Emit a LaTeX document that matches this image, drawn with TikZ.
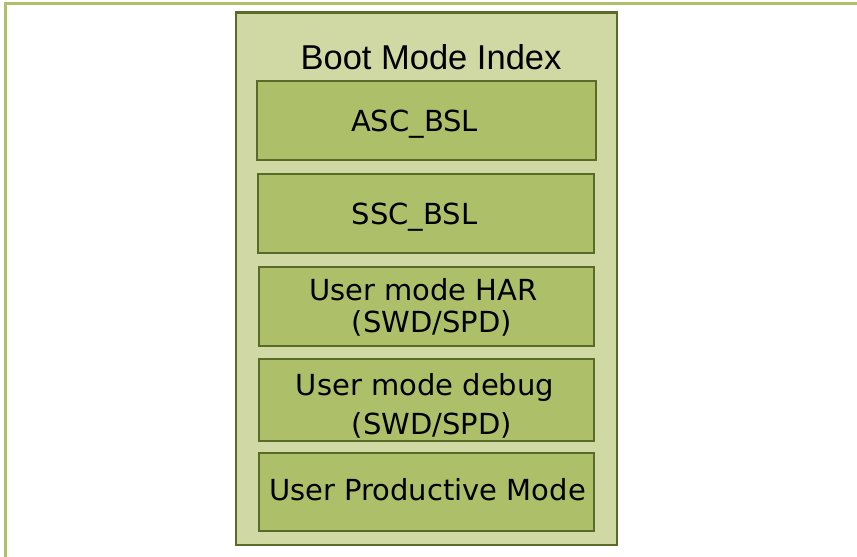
\documentclass[tikz,border=0pt]{standalone}
\usepackage{fontspec}
\setmainfont{Liberation Sans}
\newfontfamily\boxfont{DejaVu Sans}
\definecolor{framegreen}{HTML}{AFC06A}
\definecolor{panelfill}{HTML}{D0D9A4}
\definecolor{boxfill}{HTML}{AEBF6A}
\definecolor{edgeolive}{HTML}{5A6A28}
\begin{document}
\begin{tikzpicture}[x=1pt,y=-1pt,
  panel/.style={draw=edgeolive,fill=panelfill,line width=2.2pt},
  modebox/.style={draw=edgeolive,fill=boxfill,line width=1.8pt},
  boxtext/.style={anchor=base,inner sep=0pt,font=\boxfont\fontsize{29}{29}\selectfont,text=black},
  titletext/.style={anchor=base,inner sep=0pt,font=\fontsize{34.5}{34.5}\selectfont,text=black}]
\useasboundingbox (0,0) rectangle (857,557);
\fill[white] (0,0) rectangle (857,557);
\draw[framegreen,line width=3pt] (5.5,560) -- (5.5,3.5) -- (860,3.5);
\draw[panel] (236,12.5) rectangle (617,545);
\draw[modebox] (256.7,81.3) rectangle (596,160);
\draw[modebox] (258.3,174) rectangle (594,252.7);
\draw[modebox] (259,266.7) rectangle (594,346);
\draw[modebox] (259,359) rectangle (594,440.7);
\draw[modebox] (259,453) rectangle (594,531);
\node[titletext] (title) at (431,69) {Boot Mode Index};
\node[boxtext] (asc) at (414.5,131) {ASC\_BSL};
\node[boxtext] (ssc) at (414.5,224) {SSC\_BSL};
\node[boxtext] (har1) at (423.5,300.7) {User mode HAR};
\node[boxtext] (har2) at (432,332.7) {(SWD/SPD)};
\node[boxtext] (dbg1) at (425,395) {User mode debug};
\node[boxtext] (dbg2) at (432,434.3) {(SWD/SPD)};
\node[boxtext] (prod) at (427.5,500.7) {User Productive Mode};
\end{tikzpicture}
\end{document}
